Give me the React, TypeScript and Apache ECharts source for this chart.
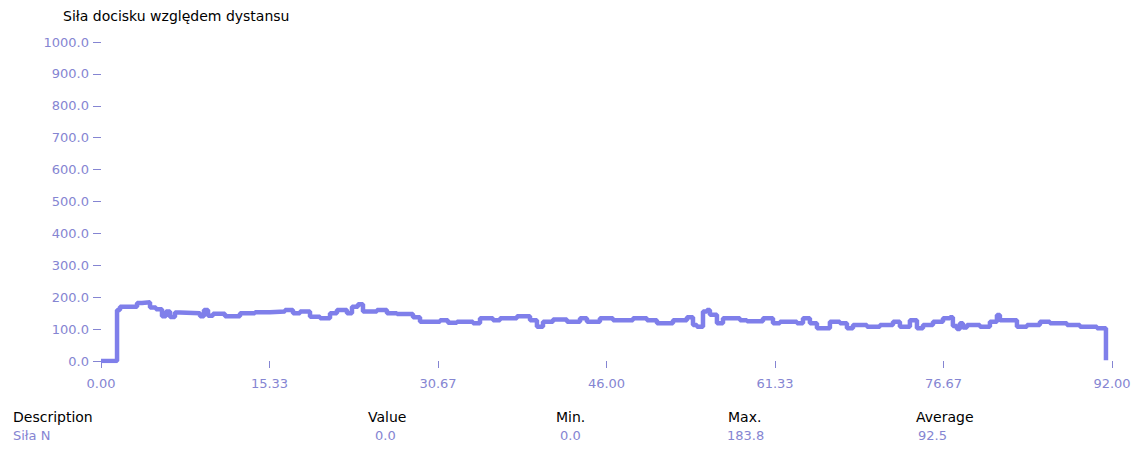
import React, { useEffect, useRef } from "react";
import * as echarts from "echarts";

const title = "Siła docisku względem dystansu";
const distance = [
  0, 1.46, 1.73, 3.28, 3.73, 4.46, 5.0, 5.55, 5.91, 6.28, 6.73, 7.19, 9.01, 9.37, 9.74, 10.19, 11.28,
  12.65, 14.01, 15.38, 16.74, 17.47, 18.11, 19.02, 19.93, 20.84, 21.47, 22.38, 22.84, 23.38, 23.84,
  25.11, 26.02, 26.93, 28.39, 29.03, 30.85, 31.57, 32.39, 33.85, 34.49, 35.67, 36.31, 37.85, 39.04,
  39.67, 40.22, 41.13, 42.4, 43.59, 44.22, 45.4, 46.59, 48.41, 49.68, 50.59, 52.05, 53.32, 53.87,
  54.23, 54.78, 55.14, 55.41, 56.05, 56.6, 58.14, 58.78, 60.24, 61.15, 61.78, 63.33, 63.88, 64.51,
  65.15, 66.33, 67.24, 67.88, 68.43, 69.7, 70.88, 72.07, 72.7, 73.61, 74.25, 74.8, 75.71, 76.62,
  77.25, 77.52, 77.89, 78.16, 78.43, 78.8, 79.98, 80.89, 81.53, 81.8, 83.35, 84.26, 85.44, 86.35,
  87.9, 89.08, 90.63, 91.45,
];
const force = [
  0, 160, 170, 182, 183.8, 168, 162, 140, 155, 138, 152, 150, 140, 160, 142, 148, 140,
  150, 153, 155, 160, 150, 155, 139, 134, 150, 160, 150, 170, 178, 155,
  160, 150, 147, 137, 123, 128, 120, 123, 118, 134, 128, 134, 140, 128,
  107, 123, 130, 123, 134, 123, 134, 128, 134, 128, 118, 128, 137, 113,
  107, 155, 160, 145, 118, 134, 128, 125, 134, 118, 123, 118, 134, 118,
  103, 123, 118, 103, 113, 107, 113, 123, 107, 128, 103, 113, 123, 134,
  137, 110, 100, 118, 105, 113, 107, 123, 144, 128, 107, 113, 123, 118,
  113, 107, 103, 2,
];

const tableHeaders = ["Description", "Value", "Min.", "Max.", "Average"];
const tableRow = ["Siła N", "0.0", "0.0", "183.8", "92.5"];

const headerX = [13, 368, 556, 728, 916];
const rowX = [13, 375, 560, 727, 918];

const LINE = "#7f7fea";
const LABEL = "#8585d2";
const FONT = "DejaVu Sans";

export default function App() {
  const ref = useRef<HTMLDivElement>(null);
  useEffect(() => {
    if (!ref.current) return;
    const chart = echarts.init(ref.current, undefined, { renderer: "svg" });
    const graphics: any[] = [
      {
        type: "text",
        left: 63,
        top: 9,
        style: { text: title, fill: "#000", font: `14px "${FONT}"` },
      },
    ];
    tableHeaders.forEach((h, i) => {
      graphics.push({
        type: "text",
        left: headerX[i],
        top: 410,
        style: { text: h, fill: "#000", font: `14px "${FONT}"` },
      });
    });
    tableRow.forEach((v, i) => {
      graphics.push({
        type: "text",
        left: rowX[i],
        top: 429,
        style: { text: v, fill: LABEL, font: `13px "${FONT}"` },
      });
    });
    chart.setOption({
      animation: false,
      grid: { left: 101, right: 30, top: 42, bottom: 89 },
      xAxis: {
        type: "value",
        min: 0,
        max: 92,
        interval: 92 / 6,
        axisLine: { show: false },
        axisTick: { show: true, length: 7, lineStyle: { color: LABEL } },
        splitLine: { show: false },
        axisLabel: {
          color: LABEL,
          fontFamily: FONT,
          fontSize: 13,
          margin: 16,
          formatter: (v: number) => v.toFixed(2),
          showMinLabel: true,
          showMaxLabel: true,
        },
      },
      yAxis: {
        type: "value",
        min: 0,
        max: 1000,
        interval: 100,
        axisLine: { show: false },
        axisTick: { show: true, length: 8, lineStyle: { color: LABEL } },
        splitLine: { show: false },
        axisLabel: {
          color: LABEL,
          fontFamily: FONT,
          fontSize: 13,
          margin: 12,
          formatter: (v: number) => v.toFixed(1),
        },
      },
      series: [
        {
          type: "line",
          step: "end",
          showSymbol: false,
          symbol: "none",
          lineStyle: { color: LINE, width: 4.5 },
          data: distance.map((d, i) => [d, force[i]]),
        },
      ],
      graphic: graphics,
    });
    return () => chart.dispose();
  }, []);
  return (
    <div
      ref={ref}
      style={{ position: "fixed", left: 0, top: 0, width: 1142, height: 450, background: "#fff" }}
    />
  );
}
